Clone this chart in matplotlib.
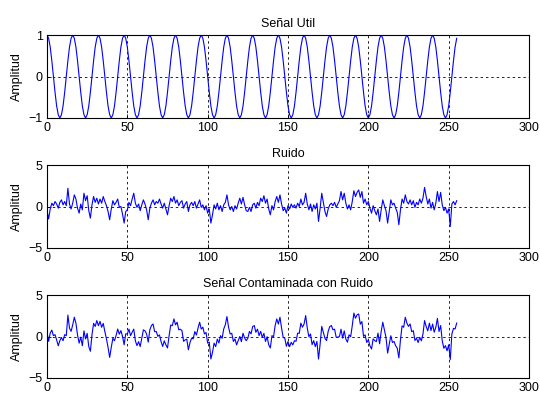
import numpy as np
import matplotlib
matplotlib.use("Agg")
import matplotlib.pyplot as plt

plt.rcParams['font.family'] = ['Liberation Sans', 'DejaVu Sans']

# one period (16 samples) of the useful signal
signal_period = [1.0, 0.92, 0.71, 0.38, 0.0, -0.38, -0.71, -0.92,
                 -1.0, -0.92, -0.71, -0.38, 0.0, 0.38, 0.71, 0.92]
n_periods = 16

noise = [
    -0.5, -1.5, -0.3, 0.4, 0.1, 0.6, 0.3, -0.2, 0.5, 0.8, 0.2, 0.6, 0.1, 2.2, 0.3, -0.3,
    0.4, 1.4, 0.9, -0.2, -0.8, 0.3, -0.4, 1.6, 0.7, 1.3, -0.5, -1.4, 0.2, 1.2, 0.5, 1.0,
    0.3, 0.9, 0.4, 1.2, 0.6, 0.1, -0.6, -1.6, -0.3, 0.7, 0.2, 0.5, 0.9, -0.1, 0.0, -0.9,
    -2.0, -0.6, -0.4, 0.5, 0.1, 0.9, 1.6, 0.4, -0.1, 0.3, -0.5, 0.2, 0.8, 0.3, -0.4, -1.6,
    -0.2, 0.4, 0.8, 0.2, 0.6, 0.4, 0.9, 0.3, -0.2, 0.4, -0.3, -1.0, 0.1, 1.0, 0.6, 1.2,
    0.4, 0.8, 0.1, 0.5, 0.7, -0.2, 0.3, 0.6, -0.6, 0.2, 0.5, 0.1, 0.6, -0.2, 0.3, 0.8,
    -0.1, 0.2, -0.4, 0.1, -0.8, -0.3, -2.0, -1.0, 0.2, -0.3, 0.4, -0.4, 0.1, -0.6, 0.2, 0.5,
    1.4, 0.2, -0.4, 0.0, -0.6, 0.1, -0.3, 0.4, 1.0, 0.3, 1.1, 0.2, -0.5, -0.6, -0.1, -0.6,
    0.2, 0.4, -0.2, 0.5, 0.1, 1.0, 0.6, 1.3, 0.4, 0.9, -0.3, -1.0, 0.1, -0.4, 0.6, 1.2,
    0.5, 1.4, 0.3, -0.5, -0.2, -0.8, 0.1, -0.3, 0.3, -0.1, 0.2, -0.2, 0.4, 0.0, 0.9, 0.2,
    0.5, 1.6, 0.3, -0.4, 0.3, -0.6, 0.2, -0.3, 0.4, -1.8, -0.2, 1.6, 0.5, -0.6, -1.2, -0.3,
    0.2, 0.4, 0.1, 0.5, -0.1, 0.3, 0.7, 1.8, 0.8, 1.6, 0.4, -0.3, 0.2, -0.4, 0.6, 1.9,
    1.2, 1.7, 2.0, 1.1, 1.8, 0.4, 0.9, 0.2, 0.6, -0.2, -0.8, 0.1, -0.5, -1.0, -0.3, -1.8,
    -0.4, 0.8, 0.1, -0.5, -2.0, -0.6, 0.8, 0.2, 0.4, -0.2, -0.7, -2.2, -0.4, 0.9, 0.4, 1.4,
    0.6, 0.3, 0.8, 0.2, 0.7, -0.1, 0.5, 0.2, 0.9, 0.4, 1.0, 2.3, 1.2, 0.3, 0.9, -0.2,
    0.5, -0.4, 0.4, 1.8, 0.6, 1.7, 0.2, -0.5, -0.1, -0.8, -0.3, -2.4, 0.3, 0.6, 0.2, 0.7,
]

titles = ["Señal Util", "Ruido", "Señal Contaminada con Ruido"]
ylabel = "Amplitud"
xticks = [0, 50, 100, 150, 200, 250, 300]

signal = np.tile(signal_period, n_periods)
noise = np.array(noise)
contaminated = signal + noise
n = np.arange(len(signal))

fig = plt.figure(figsize=(5.4, 3.94), dpi=100)
rects = [
    [47/540, 1-118/394, 482/540, 83/394],
    [47/540, 1-248/394, 482/540, 83/394],
    [47/540, 1-378/394, 482/540, 83/394],
]
series = [signal, noise, contaminated]
ylims = [(-1, 1), (-5, 5), (-5, 5)]
yticks = [[-1, 0, 1], [-5, 0, 5], [-5, 0, 5]]

for rect, y, title, yl, yt in zip(rects, series, titles, ylims, yticks):
    ax = fig.add_axes(rect)
    ax.plot(n, y, color=(0, 0, 1), lw=0.8)
    ax.set_xlim(0, 300)
    ax.set_ylim(*yl)
    ax.set_xticks(xticks)
    ax.set_yticks(yt)
    ax.grid(True, color='#222222', linestyle=(0, (2.5, 3)), lw=0.7)
    ax.set_axisbelow(True)
    ax.tick_params(direction='in', length=3, labelsize=9, pad=3, width=0.6)
    for s in ax.spines.values():
        s.set_linewidth(0.8)
    ax.set_title(title, fontsize=9, pad=6)
    ax.set_ylabel(ylabel, fontsize=9, labelpad=4)

fig.savefig("out.png", dpi=100)
